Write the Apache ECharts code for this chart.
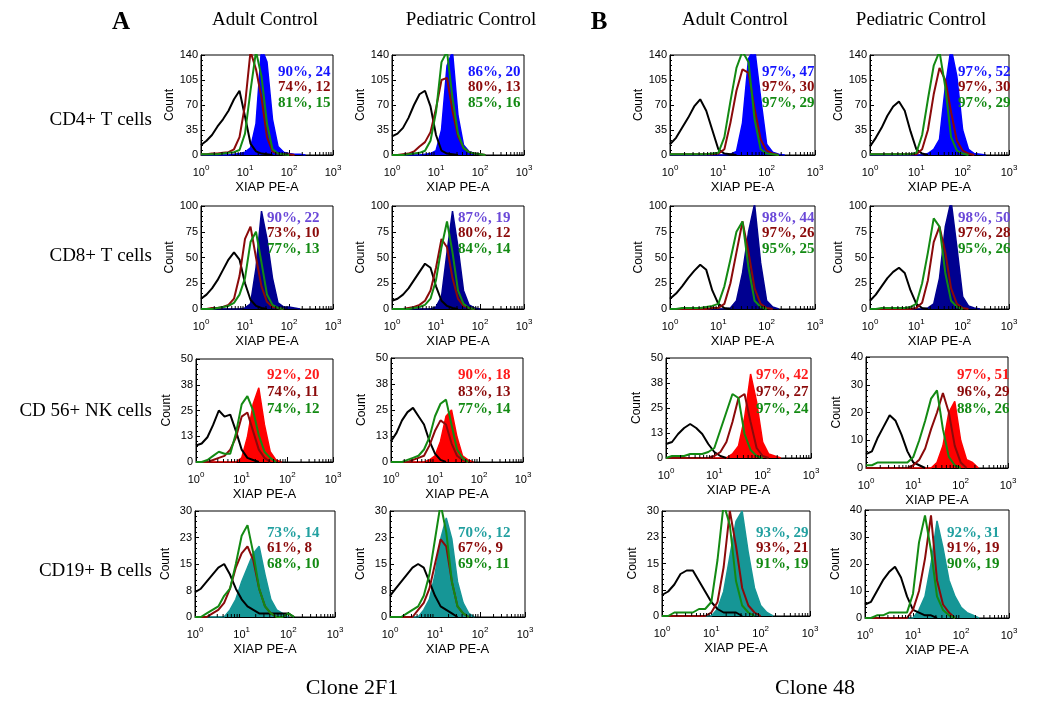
<!DOCTYPE html>
<html><head><meta charset="utf-8">
<script src="https://cdn.jsdelivr.net/npm/echarts@6/dist/echarts.min.js"></script>
<style>html,body{margin:0;padding:0;background:#fff}#c{width:1050px;height:702px}</style>
</head><body><div id="c"></div>
<script>
// ---- DATA ----
// histogram bin centres, in log10 units of XIAP PE-A fluorescence
const binLog = [0,0.125,0.25,0.375,0.5,0.625,0.75,0.875,1,1.125,1.25,1.375,1.5,1.625,1.75,1.875,2,2.125,2.25,2.375,2.5];
const xTickExp = [0,1,2,3];
const colTitles = ['Adult Control','Pediatric Control','Adult Control','Pediatric Control'];
const rowTitles = ['CD4+ T cells','CD8+ T cells','CD 56+ NK cells','CD19+ B cells'];
const yMaxes = [140,140,140,140, 100,100,100,100, 50,50,50,40, 30,30,30,40];

// counts per bin: iso = black (isotype), dr = dark red, gr = green, pos = filled
const A1_pos=[0,0,0,0,0,0,1,2,4,10,44,150,130,50,12,4,2,1,1,0];
const A1_iso=[14,20,28,40,50,62,78,90,54,16,5,2,1,0];
const A1_dr =[1,1,2,2,3,4,8,25,70,145,120,80,25,5,2,1,1,0];
const A1_gr =[1,1,1,1,2,3,4,7,30,90,145,110,44,8,2,1,0];
const A2_pos=[0,0,0,0,0,0,1,2,6,35,125,145,55,14,5,2,1,0];
const A2_iso=[26,30,38,52,70,85,90,68,28,6,2,1,0];
const A2_dr =[0,0,1,2,5,12,18,32,65,105,108,62,26,10,4,2,1,0];
const A2_gr =[0,0,0,1,2,3,6,20,60,130,145,80,30,10,4,2,1,0];
const B1_pos=[0,0,0,0,0,0,0,0,0,0,1,5,45,135,150,80,15,4,1,0];
const B1_iso=[15,24,38,52,68,78,62,35,8,2,1,0];
const B1_dr =[1,1,1,1,1,1,1,1,2,8,45,90,120,115,65,22,6,2,0];
const B1_gr =[1,1,1,1,1,1,1,2,3,25,75,122,145,130,50,8,2,1,0];
const B2_pos=[0,0,0,0,0,0,0,0,0,0,2,8,22,95,150,110,35,8,2,1,0];
const B2_iso=[12,24,38,55,68,75,62,33,8,2,0];
const B2_dr =[1,1,1,1,1,1,1,1,1,8,35,85,122,105,60,20,6,2,0];
const B2_gr =[1,1,1,1,1,1,1,1,3,28,78,125,145,95,25,6,2,0];

const A3_pos=[0,0,0,0,0,0,0,0,1,5,40,95,68,30,6,2,2,1,0];
const A3_iso=[10,14,20,28,38,48,55,48,25,9,3,1,0];
const A3_dr =[0,0,1,1,2,4,10,32,68,80,50,22,7,2,1,0];
const A3_gr =[0,0,0,1,2,3,6,14,30,65,75,45,14,4,1,0];
const A4_pos=[0,0,0,0,0,0,0,0,2,12,55,95,60,18,4,1,0];
const A4_iso=[8,10,14,20,28,36,44,40,22,8,3,1,0];
const A4_dr =[0,0,0,1,2,4,8,18,40,68,60,30,10,3,1,0];
const A4_gr =[0,0,0,0,1,2,4,10,28,60,85,55,18,5,1,0];
const B3_pos=[0,0,0,0,0,0,0,0,0,0,1,8,35,75,102,45,8,2,0];
const B3_iso=[10,15,22,30,37,43,38,18,5,1,0];
const B3_dr =[0,0,0,0,0,0,0,1,1,5,25,55,85,55,20,5,1,0];
const B3_gr =[0,0,1,1,1,1,2,3,5,22,48,75,85,40,8,2,0];
const B4_pos=[0,0,0,0,0,0,0,0,0,0,1,5,30,80,105,60,12,3,1,0];
const B4_iso=[8,14,22,30,36,40,35,18,5,1,0];
const B4_dr =[0,0,0,0,0,0,0,0,1,6,28,65,80,55,20,5,1,0];
const B4_gr =[0,0,1,1,1,1,1,2,5,25,55,88,80,35,8,2,0];

const A5_pos=[0,0,0,0,0,0,0,0,2,12,28,36,18,5,1,0];
const A5_iso=[8,9,12,18,25,22,23,15,6,2,1,0];
const A5_dr =[0,0,0,1,2,3,6,12,22,24,15,6,2,0];
const A5_gr =[0,0,1,3,5,4,4,14,28,32,25,13,5,2,0];
const A6_pos=[0,0,0,0,0,0,0,1,3,10,22,25,12,3,1,0];
const A6_iso=[10,14,20,24,26,22,18,10,4,1,0];
const A6_dr =[0,0,0,0,1,2,3,8,15,20,18,9,3,1,0];
const A6_gr =[0,0,0,1,2,3,6,12,22,28,30,18,6,2,0];
const B5_pos=[0,0,0,0,0,0,0,0,0,0,0,2,6,20,42,28,8,2,1,0];
const B5_iso=[7,8,12,15,17,15,12,7,3,1,0];
const B5_dr =[0,0,0,0,0,0,0,0,1,3,8,18,30,32,18,5,1,0];
const B5_gr =[0,1,1,1,2,2,2,3,5,14,23,32,30,12,4,1,0];
const B6_pos=[0,0,0,0,0,0,0,0,0,0,0,0,2,8,20,24,10,3,2,0];
const B6_iso=[5,6,11,15,19,17,12,6,2,1,0];
const B6_dr =[0,0,0,0,0,0,0,0,1,3,7,14,20,27,20,8,2,0];
const B6_gr =[1,1,2,2,2,2,2,2,4,10,17,25,28,14,4,1,0];

const A7_pos=[0,0,0,0,0,0,2,5,10,14,18,20,12,5,2,1,0];
const A7_iso=[7,8,10,12,14,15,12,8,5,3,2,1,1,1,1,1,1,0];
const A7_dr =[0,0,0,1,2,4,8,14,18,20,16,8,3,1,0];
const A7_gr =[0,0,1,2,3,6,8,15,23,26,18,8,3,1,0,0,1,0];
const A8_pos=[0,0,0,0,0,0,2,5,12,22,28,22,10,4,1,0];
const A8_iso=[6,8,10,12,14,15,14,10,6,3,2,1,0];
const A8_dr =[0,0,0,0,0,2,4,8,15,22,20,10,3,1,0];
const A8_gr =[0,0,0,1,2,3,6,12,22,32,24,10,3,1,0];
const B7_pos=[0,0,0,0,0,0,0,0,0,2,7,17,27,30,18,8,3,1,0];
const B7_iso=[6,7,9,12,13,13,10,7,4,2,1,1,1,0];
const B7_dr =[0,0,0,0,0,0,0,0,1,4,14,30,20,8,3,1,0];
const B7_gr =[0,0,1,1,1,1,2,2,4,16,32,26,10,3,1,0];
const B8_pos=[0,0,0,0,0,0,0,0,0,3,8,20,36,26,14,8,4,2,1,0];
const B8_iso=[5,6,10,14,17,19,15,8,3,2,1,1,0];
const B8_dr =[0,0,0,0,0,0,0,0,3,10,22,38,14,5,2,0];
const B8_gr =[0,0,1,1,2,2,2,2,9,28,38,25,8,3,1,0];

// annotation texts (% positive, MFI) : filled / dark red / green
const A1_txt=['90%, 24','74%, 12','81%, 15'];
const A2_txt=['86%, 20','80%, 13','85%, 16'];
const B1_txt=['97%, 47','97%, 30','97%, 29'];
const B2_txt=['97%, 52','97%, 30','97%, 29'];
const A3_txt=['90%, 22','73%, 10','77%, 13'];
const A4_txt=['87%, 19','80%, 12','84%, 14'];
const B3_txt=['98%, 44','97%, 26','95%, 25'];
const B4_txt=['98%, 50','97%, 28','95%, 26'];
const A5_txt=['92%, 20','74%, 11','74%, 12'];
const A6_txt=['90%, 18','83%, 13','77%, 14'];
const B5_txt=['97%, 42','97%, 27','97%, 24'];
const B6_txt=['97%, 51','96%, 29','88%, 26'];
const A7_txt=['73%, 14','61%, 8','68%, 10'];
const A8_txt=['70%, 12','67%, 9','69%, 11'];
const B7_txt=['93%, 29','93%, 21','91%, 19'];
const B8_txt=['92%, 31','91%, 19','90%, 19'];

// ---- LAYOUT / STYLE ----
const panelData = [
  [A1_pos,A1_iso,A1_dr,A1_gr,A1_txt],[A2_pos,A2_iso,A2_dr,A2_gr,A2_txt],[B1_pos,B1_iso,B1_dr,B1_gr,B1_txt],[B2_pos,B2_iso,B2_dr,B2_gr,B2_txt],
  [A3_pos,A3_iso,A3_dr,A3_gr,A3_txt],[A4_pos,A4_iso,A4_dr,A4_gr,A4_txt],[B3_pos,B3_iso,B3_dr,B3_gr,B3_txt],[B4_pos,B4_iso,B4_dr,B4_gr,B4_txt],
  [A5_pos,A5_iso,A5_dr,A5_gr,A5_txt],[A6_pos,A6_iso,A6_dr,A6_gr,A6_txt],[B5_pos,B5_iso,B5_dr,B5_gr,B5_txt],[B6_pos,B6_iso,B6_dr,B6_gr,B6_txt],
  [A7_pos,A7_iso,A7_dr,A7_gr,A7_txt],[A8_pos,A8_iso,A8_dr,A8_gr,A8_txt],[B7_pos,B7_iso,B7_dr,B7_gr,B7_txt],[B8_pos,B8_iso,B8_dr,B8_gr,B8_txt]
];
// [left, top, width, height] of each plot box
const boxes = [
  [201,55,132,100],[392,55,132,100],[670,55,145,100],[870,55,139,100],
  [201,206,132,103],[392,206,132,103],[670,206,145,103],[870,206,139,103],
  [196,359,137,103],[391,358,132,104],[666,358,145,100],[866,357,142,111],
  [195,511,140,106],[390,511,135,106],[662,511,148,105],[865,510,144,108]
];
// annotation anchor [x left, y of first line], line step
const annPos = [
  [278,72],[468,72],[762,72],[958,72],
  [267,218],[458,218],[762,218],[958,218],
  [267,375],[458,375],[756,375],[957,375],
  [267,533],[458,533],[756,533],[947,533]
];
const annStep = [15.5,15.5,15.5,15.5, 15.5,15.5,15.5,15.5, 17,17,17,17, 15.5,15.5,15.5,15.5];
const fillColors = ['#0000ff','#000090','#ff0000','#169696'];
const txtColors1 = ['#1515ff','#6a48d8','#ff1a1a','#22a0a0'];
const drColor = '#8b0a0a', grColor = '#138a13';
const SANS = 'Liberation Sans, Arial, sans-serif';
const SERIF = 'Liberation Serif, Times New Roman, serif';

const minorLog = [];
for (let d = 0; d < 3; d++) for (let k = 2; k <= 9; k++) minorLog.push([d + Math.log10(k)]);

const grids=[], xAxes=[], yAxes=[], series=[], graphics=[];
panelData.forEach((pd, i) => {
  const b = boxes[i], row = Math.floor(i/4), ymax = yMaxes[i];
  grids.push({left:b[0], top:b[1], width:b[2], height:b[3], show:true, borderColor:'#000', borderWidth:1, backgroundColor:'transparent'});
  xAxes.push({gridIndex:i, type:'value', min:0, max:3, interval:1,
    axisLine:{onZero:false, lineStyle:{color:'#000', width:1}},
    axisTick:{inside:true, length:5, lineStyle:{color:'#000'}},
    splitLine:{show:false},
    axisLabel:{margin:9, formatter: v => '{b|10}{s|' + v + '}',
      rich:{b:{fontSize:11, fontFamily:SANS, color:'#000', lineHeight:18}, s:{fontSize:8, fontFamily:SANS, color:'#000', verticalAlign:'top', lineHeight:9}}},
    name:'XIAP PE-A', nameLocation:'middle', nameGap:26,
    nameTextStyle:{fontSize:13, fontFamily:SANS, color:'#000'}});
  yAxes.push({gridIndex:i, type:'value', min:0, max:ymax, interval:ymax/4,
    axisLine:{lineStyle:{color:'#000', width:1}},
    axisTick:{inside:true, length:4, lineStyle:{color:'#000'}},
    minorTick:{show:true, splitNumber:5, length:2, lineStyle:{color:'#000'}},
    splitLine:{show:false},
    axisLabel:{margin:3, fontSize:11, fontFamily:SANS, color:'#000', formatter: v => String(Math.round(v))},
    name:'Count', nameLocation:'middle', nameGap:23, nameRotate:90,
    nameTextStyle:{fontSize:12, fontFamily:SANS, color:'#000'}});
  const toPts = arr => arr.map((v, j) => [binLog[j], v]);
  series.push({type:'line', xAxisIndex:i, yAxisIndex:i, data:toPts(pd[0]), showSymbol:false, z:2,
    lineStyle:{color:fillColors[row], width:1.5}, areaStyle:{color:fillColors[row], opacity:1}, silent:true});
  series.push({type:'line', xAxisIndex:i, yAxisIndex:i, data:toPts(pd[1]), showSymbol:false, z:3,
    lineStyle:{color:'#000', width:2}, silent:true});
  series.push({type:'line', xAxisIndex:i, yAxisIndex:i, data:toPts(pd[2]), showSymbol:false, z:4,
    lineStyle:{color:drColor, width:2}, silent:true});
  series.push({type:'line', xAxisIndex:i, yAxisIndex:i, data:toPts(pd[3]), showSymbol:false, z:5,
    lineStyle:{color:grColor, width:2}, silent:true});
  series.push({type:'custom', xAxisIndex:i, yAxisIndex:i, data:minorLog, silent:true, z:6,
    renderItem:(params, api) => {
      const p = api.coord([api.value(0), 0]);
      return {type:'line', shape:{x1:p[0], y1:p[1], x2:p[0], y2:p[1]-3}, style:{stroke:'#000', lineWidth:1}};
    }});
  const tcol = [txtColors1[row], drColor, grColor];
  pd[4].forEach((t, k) => {
    graphics.push({type:'text', x:annPos[i][0], y:annPos[i][1] + k*annStep[i], z:100,
      style:{text:t, fill:tcol[k], font:'bold 15px ' + SERIF, textAlign:'left', textVerticalAlign:'middle'}});
  });
});

// headers and row labels
const colCenters = [265, 471, 735, 921];
colTitles.forEach((t, k) => graphics.push({type:'text', x:colCenters[k], y:20,
  style:{text:t, fill:'#000', font:'19px ' + SERIF, textAlign:'center', textVerticalAlign:'middle'}}));
const rowCenters = [120, 256, 411, 571];
rowTitles.forEach((t, k) => graphics.push({type:'text', x:152, y:rowCenters[k],
  style:{text:t, fill:'#000', font:'19px ' + SERIF, textAlign:'right', textVerticalAlign:'middle'}}));
graphics.push({type:'text', x:121, y:23, style:{text:'A', fill:'#000', font:'bold 25px ' + SERIF, textAlign:'center', textVerticalAlign:'middle'}});
graphics.push({type:'text', x:599, y:23, style:{text:'B', fill:'#000', font:'bold 25px ' + SERIF, textAlign:'center', textVerticalAlign:'middle'}});
graphics.push({type:'text', x:352, y:688, style:{text:'Clone 2F1', fill:'#000', font:'22px ' + SERIF, textAlign:'center', textVerticalAlign:'middle'}});
graphics.push({type:'text', x:815, y:688, style:{text:'Clone 48', fill:'#000', font:'22px ' + SERIF, textAlign:'center', textVerticalAlign:'middle'}});

const chart = echarts.init(document.getElementById('c'), null, {renderer:'canvas'});
chart.setOption({animation:false, backgroundColor:'#fff', grid:grids, xAxis:xAxes, yAxis:yAxes, series:series, graphic:graphics});
</script></body></html>
